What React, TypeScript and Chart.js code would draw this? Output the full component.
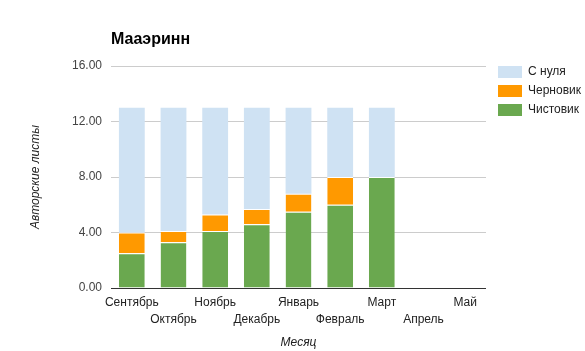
import React, { useEffect, useRef } from "react";
import { Chart, registerables } from "chart.js";

Chart.register(...registerables);

const categories: (string | string[])[] = [
  "Сентябрь",
  ["", "Октябрь"],
  "Ноябрь",
  ["", "Декабрь"],
  "Январь",
  ["", "Февраль"],
  "Март",
  ["", "Апрель"],
  "Май",
];

const cleanValues = [2.5, 3.3, 4.1, 4.6, 5.5, 6, 8, null, null];
const draftValues = [1.5, 0.8, 1.2, 1.1, 1.3, 2, 0, null, null];
const scratchValues = [9, 8.9, 7.7, 7.3, 6.2, 5, 5, null, null];

const yTicks = [0, 4, 8, 12, 16];

const FONT = "'Liberation Sans', Arial, sans-serif";

const legendPlugin = {
  id: "customLegend",
  afterDraw(chart: any) {
    const ctx = chart.ctx;
    const area = chart.chartArea;
    const items = chart.data.datasets.slice().reverse();
    ctx.save();
    ctx.font = `12px ${FONT}`;
    ctx.textBaseline = "middle";
    ctx.textAlign = "left";
    items.forEach((ds: any, i: number) => {
      const x = area.right + 12;
      const y = area.top + i * 19;
      ctx.fillStyle = ds.backgroundColor;
      ctx.fillRect(x, y, 24, 12);
      ctx.fillStyle = "#222";
      ctx.fillText(ds.label, x + 30, y + 6);
    });
    ctx.restore();
  },
};

export default function App() {
  const ref = useRef<HTMLCanvasElement>(null);
  useEffect(() => {
    if (!ref.current) return;
    Chart.defaults.font.family = FONT;
    const chart = new Chart(ref.current, {
      type: "bar",
      data: {
        labels: categories,
        datasets: [
          {
            label: "Чистовик",
            data: cleanValues,
            backgroundColor: "#6aa84f",
            borderColor: "#ffffff",
            borderWidth: { top: 1, left: 0, right: 0, bottom: 0 },
            borderSkipped: false,
          },
          {
            label: "Черновик",
            data: draftValues,
            backgroundColor: "#ff9900",
            borderColor: "#ffffff",
            borderWidth: { top: 1, left: 0, right: 0, bottom: 0 },
            borderSkipped: false,
          },
          {
            label: "С нуля",
            data: scratchValues,
            backgroundColor: "#cfe2f3",
            borderWidth: 0,
          },
        ] as any,
      },
      options: {
        animation: false,
        responsive: false,
        devicePixelRatio: 1,
        layout: { padding: { left: 0, right: 99, top: 0, bottom: 0 } },
        datasets: {
          bar: { categoryPercentage: 1, barPercentage: 0.62 },
        } as any,
        plugins: {
          legend: { display: false },
          tooltip: { enabled: false },
          title: {
            display: true,
            text: "Мааэринн",
            align: "start",
            fullSize: false,
            color: "#000",
            font: { size: 16, weight: "bold", family: FONT },
            padding: { top: 30, bottom: 16.8 },
          },
        },
        scales: {
          x: {
            stacked: true,
            grid: { display: false, drawTicks: false },
            border: { display: false },
            ticks: {
              autoSkip: false,
              maxRotation: 0,
              minRotation: 0,
              color: "#222",
              padding: 6,
              font: { size: 12, lineHeight: 17 / 12, family: FONT },
            },
            title: {
              display: true,
              text: "Месяц",
              color: "#222",
              font: { size: 12, style: "italic", family: FONT },
              padding: { top: 1, bottom: 1 },
            },
            afterFit: (s: any) => {
              s.height = 63;
            },
          },
          y: {
            stacked: true,
            min: yTicks[0],
            max: yTicks[yTicks.length - 1],
            border: { display: false },
            grid: {
              drawTicks: false,
              color: (c: any) => (c.tick && c.tick.value === 0 ? "#333" : "#ccc"),
            },
            afterBuildTicks: (s: any) => {
              s.ticks = yTicks.map((v) => ({ value: v }));
            },
            ticks: {
              color: "#444",
              padding: 9,
              font: { size: 12, family: FONT },
              callback: (v: any) => Number(v).toFixed(2),
            },
            title: {
              display: true,
              text: "Авторские листы",
              color: "#222",
              font: { size: 12, style: "italic", family: FONT },
              padding: { top: 28, bottom: 28 },
            },
            afterFit: (s: any) => {
              s.width = 111;
            },
          },
        },
      },
      plugins: [legendPlugin],
    });
    return () => chart.destroy();
  }, []);
  return (
    <div style={{ position: "absolute", left: 0, top: 0, width: 585, height: 351, background: "#fff" }}>
      <canvas ref={ref} width={585} height={351} style={{ width: 585, height: 351 }} />
    </div>
  );
}
